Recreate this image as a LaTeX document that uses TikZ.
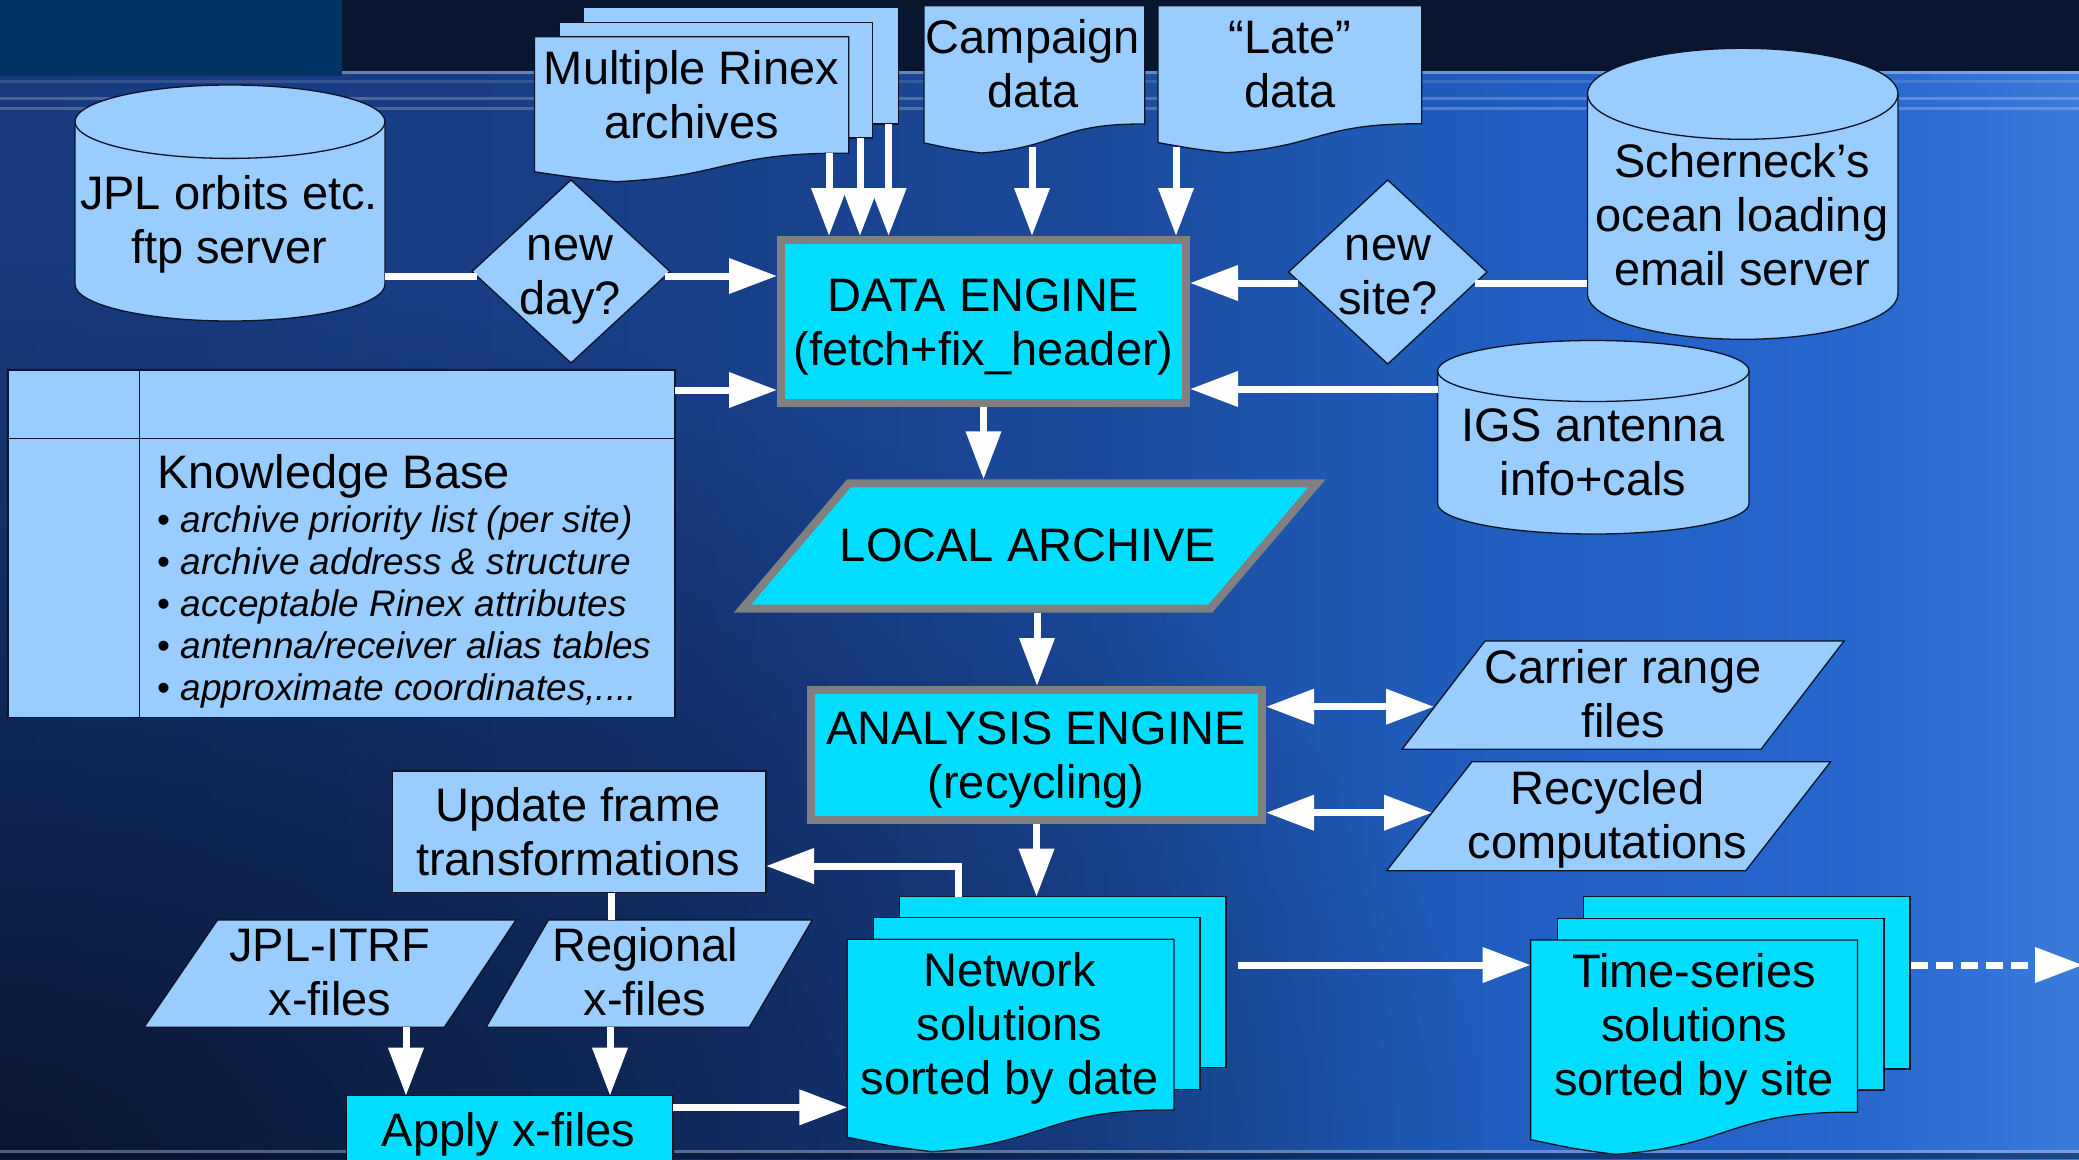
\documentclass[tikz,border=0pt]{standalone}
\usepackage{fontspec}
\setmainfont{Liberation Sans}
\usetikzlibrary{arrows.meta,fadings,calc}

\definecolor{lightfill}{HTML}{99CCFF}
\definecolor{cyanfill}{HTML}{00DDFF}
\definecolor{framegray}{HTML}{808080}
\definecolor{outlinecol}{HTML}{0C1426}
\definecolor{topdark}{HTML}{081630}
\definecolor{topblock}{HTML}{003263}
\definecolor{shadowblue}{HTML}{07122A}
\definecolor{bgA}{HTML}{173A7E}
\definecolor{bgB}{HTML}{183F88}
\definecolor{bgC}{HTML}{1B4A9C}
\definecolor{bgD}{HTML}{1F5AB8}
\definecolor{bgE}{HTML}{2260C6}
\definecolor{bgF}{HTML}{2766CC}
\definecolor{bgG}{HTML}{3070D4}
\definecolor{bgH}{HTML}{3A7AD8}

% slide background: dark on the left, bright blue on the right
\pgfdeclarehorizontalshading{bghoriz}{100bp}{color(0bp)=(bgA); color(25bp)=(bgA);
  color(41.83bp)=(bgB); color(51.45bp)=(bgC); color(58.67bp)=(bgD);
  color(63.48bp)=(bgE); color(69.49bp)=(bgF); color(72.14bp)=(bgG);
  color(75bp)=(bgH); color(100bp)=(bgH)}
\tikzfading[name=darkblob, inner color=transparent!10, outer color=transparent!100]

% flowchart "document" sheet with a wavy lower edge: style, left, top, right, lowest point
\newcommand\docshape[5][]{%
  \pgfmathsetmacro\dW{#4-#2}%
  \pgfmathsetmacro\dH{#5-#3}%
  \path[#1] (#2,#3) -- (#4,#3) -- (#4,{#3+0.8037*\dH})
    .. controls ({#2+0.604*\dW},{#3+0.797*\dH}) and ({#2+0.6176*\dW},{#3+0.9616*\dH}) .. ({#2+0.26*\dW},#5)
    .. controls ({#2+0.1324*\dW},{#3+0.9769*\dH}) and ({#2+0.0856*\dW},{#3+0.9583*\dH}) .. (#2,{#3+0.9315*\dH}) -- cycle;}

% database cylinder: style, left, right, top-ellipse centre, bottom-ellipse centre, y radius
\newcommand\cylshape[6][]{%
  \pgfmathsetmacro\cR{(#3-#2)/2}%
  \path[#1] (#2,#4) -- (#2,#5) arc[start angle=180,end angle=360,x radius=\cR pt,y radius=#6pt]
    -- (#3,#4) arc[start angle=0,end angle=180,x radius=\cR pt,y radius=#6pt] -- cycle;
  \path[#1,fill=none] (#2,#4) arc[start angle=180,end angle=360,x radius=\cR pt,y radius=#6pt];}

\begin{document}
\begin{tikzpicture}[x=1pt,y=-1pt,
  txt/.style={font=\fontsize{47}{54}\selectfont, align=center, inner sep=0pt, text=black},
  lightshape/.style={fill=lightfill, draw=outlinecol, line width=1.3pt},
  cyanshape/.style={fill=cyanfill, draw=outlinecol, line width=1.3pt},
  engineshape/.style={fill=cyanfill, draw=framegray, line width=8pt},
  arrowfw/.style={draw=white, line width=7pt, -{Triangle[length=48pt,width=34pt]}},
  arrowln/.style={draw=white, line width=7pt},
  arrowbi/.style={draw=white, line width=7pt, {Triangle[length=48pt,width=34pt]}-{Triangle[length=48pt,width=34pt]}},
]
\useasboundingbox (0,0) rectangle (2079,1159);

% ---------- background ----------
\shade[shading=bghoriz] (0,0) rectangle (2079,1159);
\begin{scope}
  \clip (0,0) rectangle (2079,1159);
  \fill[shadowblue, path fading=darkblob] (0,1159) ellipse [x radius=1500pt, y radius=900pt];
\end{scope}
\fill[topdark] (0,0) rectangle (2079,71);
\fill[white, opacity=0.35] (0,71) rectangle (2079,73.5);
\fill[white, opacity=0.12] (0,80) rectangle (2079,83);
\fill[white, opacity=0.22] (0,97) rectangle (2079,100);
\fill[white, opacity=0.22] (0,107) rectangle (2079,110);
\fill[topblock] (0,0) rectangle (342,76);
\fill[white, opacity=0.3] (0,1150) rectangle (2079,1153);
\fill[shadowblue, opacity=0.5] (0,1153) rectangle (2079,1159);

% ---------- input sources ----------
\path[lightshape] (583.6,7.3) rectangle (898.5,124);
\path[lightshape] (559,22.3) rectangle (872.7,138);
\docshape[lightshape]{534.5}{36.7}{848.8}{181.7}
\node[txt] (rinex) at (691.5,100.7) {\strut Multiple Rinex\\\strut archives};

\docshape[lightshape]{924}{5.7}{1144.7}{153}
\node[txt] (campaign) at (1033,69.5) {\strut Campaign\\\strut data};

\docshape[lightshape]{1158}{5.7}{1421.7}{152.7}
\node[txt] (late) at (1290,70) {\strut “Late”\\\strut data};

\cylshape[lightshape]{75}{385}{121.7}{284.3}{36.7}
\node[txt] (jpl) at (229,225.7) {\strut JPL orbits etc.\\\strut ftp server};

\cylshape[lightshape]{1587.4}{1898}{93.8}{293.8}{45.5}
\node[txt] (scherneck) at (1742,220.9) {\strut Scherneck’s\\\strut ocean loading\\\strut email server};

\cylshape[lightshape]{1437.6}{1749}{371}{503.5}{30.5}
\node[txt] (igs) at (1593,457.5) {\strut IGS antenna\\\strut info+cals};

% decisions
\path[lightshape] (472,271.5) -- (571,180) -- (670,271.5) -- (571,363) -- cycle;
\node[txt] (newday) at (570,276.7) {\strut new\\\strut day?};
\path[lightshape] (1288.5,272) -- (1387.7,180) -- (1487,272) -- (1387.7,364) -- cycle;
\node[txt] (newsite) at (1388,276.7) {\strut new\\\strut site?};

% knowledge base table
\path[lightshape, line width=1.5pt] (8,370) rectangle (675,717.3);
\draw[outlinecol, line width=1.5pt] (8,438.3) -- (675,438.3) (139.3,370) -- (139.3,717.3);
\node[font=\fontsize{47}{54}\selectfont, anchor=base west, inner sep=0pt] (kbtitle) at (157,488.3) {Knowledge Base};
\node[font=\fontsize{37}{42}\selectfont, anchor=north west, align=left, inner sep=0pt] (kblist) at (157,502.6)
  {\strut• \textit{archive priority list (per site)}\\
   \strut• \textit{archive address \& structure}\\
   \strut• \textit{acceptable Rinex attributes}\\
   \strut• \textit{antenna/receiver alias tables}\\
   \strut• \textit{approximate coordinates,....}};

% ---------- engines ----------
\path[engineshape] (781,240) rectangle (1186,403);
\node[txt] (data) at (983.5,327.7) {\strut DATA ENGINE\\\strut (fetch+fix\_header)};

\path[engineshape] (849,483.3) -- (1317,483.3) -- (1210.3,608.7) -- (742.3,608.7) -- cycle;
\node[txt] (local) at (1028,551) {\strut LOCAL ARCHIVE};

\path[engineshape] (811,690) rectangle (1262,820);
\node[txt] (analysis) at (1036,760.7) {\strut ANALYSIS ENGINE\\\strut (recycling)};

\path[lightshape] (1485,641) -- (1844,641) -- (1761,749.3) -- (1402,749.3) -- cycle;
\node[txt] (carrier) at (1623,699.5) {\strut Carrier range\\\strut files};

\path[lightshape] (1472,761.7) -- (1830.6,761.7) -- (1745.7,870.7) -- (1386.6,870.7) -- cycle;
\node[txt] (recycled) at (1607.5,820.9) {\strut Recycled\\\strut computations};

% ---------- reference frame branch ----------
\path[lightshape] (392.6,771) rectangle (766,892.7);
\node[txt] (update) at (578,837.5) {\strut Update frame\\\strut transformations};

\path[lightshape] (217.5,920) -- (516,920) -- (444.3,1027.3) -- (144,1027.3) -- cycle;
\node[txt] (jplitrf) at (330,977.5) {\strut JPL-ITRF\\\strut x-files};

\path[lightshape] (548.4,920) -- (812.3,920) -- (749.3,1027.3) -- (486,1027.3) -- cycle;
\node[txt] (regional) at (645,977.5) {\strut Regional\\\strut x-files};

\path[cyanshape] (346.8,1095.7) rectangle (673,1175);
\node[txt] (apply) at (508.6,1136) {\strut Apply x-files};

% ---------- solution stacks ----------
\path[cyanshape] (899.6,896.7) rectangle (1226,1067.7);
\path[cyanshape] (873.2,917.7) rectangle (1200,1089.3);
\docshape[cyanshape]{847.3}{939.3}{1174}{1151.7}
\node[txt] (network) at (1009.6,1029.8) {\strut Network\\\strut solutions\\\strut sorted by date};

\path[cyanshape] (1583.8,896.7) rectangle (1910,1069);
\path[cyanshape] (1557.2,918.3) rectangle (1884,1090);
\docshape[cyanshape]{1530.6}{940}{1857.5}{1154.3}
\node[txt] (timeseries) at (1694,1030.8) {\strut Time-series\\\strut solutions\\\strut sorted by site};

% ---------- connection points ----------
\coordinate (rinexA) at (829,153);
\coordinate (rinexB) at (860,138);
\coordinate (rinexC) at (888.6,124);
\coordinate (campaignOut) at (1032,147);
\coordinate (lateOut) at (1176,147);
\coordinate (dataTop) at (983.5,236);
\coordinate (dataW) at (777,320);
\coordinate (dataE) at (1190,320);
\coordinate (dataS) at (983.5,407);
\coordinate (jplE) at (385,276);
\coordinate (newdayW) at (477,276);
\coordinate (newdayE) at (665,276);
\coordinate (kbE) at (675,390);
\coordinate (newsiteW) at (1298,283);
\coordinate (newsiteE) at (1475,283);
\coordinate (scherneckW) at (1587.4,283);
\coordinate (igsW) at (1437.6,389);
\coordinate (localN) at (983.5,479.3);
\coordinate (localS) at (1037,612.7);
\coordinate (analysisN) at (1037,686);
\coordinate (analysisE) at (1266,760);
\coordinate (analysisS) at (1036.5,824);
\coordinate (carrierW) at (1434,706.7);
\coordinate (recycledW) at (1432,812.7);
\coordinate (networkTop) at (1036.5,896.7);
\coordinate (networkFeed) at (958,896.7);
\coordinate (updateE) at (766,866);
\coordinate (updateS) at (611,892.7);
\coordinate (regionalN) at (611,920);
\coordinate (jplitrfS) at (406,1027.3);
\coordinate (regionalS) at (610,1027.3);
\coordinate (applyN) at (508.6,1095.7);
\coordinate (applyE) at (673,1107.3);
\coordinate (networkW) at (847.3,1107.3);
\coordinate (networkE) at (1237.5,965);
\coordinate (timeseriesW) at (1530.6,965);
\coordinate (timeseriesE) at (1911,965);
\coordinate (offpage) at (2083,965);

% ---------- connectors ----------
\draw[arrowfw] (rinexA) -- (rinexA |- dataTop);
\draw[arrowfw] (rinexB) -- (rinexB |- dataTop);
\draw[arrowfw] (rinexC) -- (rinexC |- dataTop);
\draw[arrowfw] (campaignOut) -- (campaignOut |- dataTop);
\draw[arrowfw] (lateOut) -- (lateOut |- dataTop);
\draw[arrowln] (jplE) -- (newdayW);
\draw[arrowfw] (newdayE) -- (newdayE -| dataW);
\draw[arrowfw] (kbE) -- (kbE -| dataW);
\draw[arrowln] (scherneckW) -- (newsiteE);
\draw[arrowfw] (newsiteW) -- (newsiteW -| dataE);
\draw[arrowfw] (igsW) -- (igsW -| dataE);
\draw[arrowfw] (dataS) -- (localN);
\draw[arrowfw] (localS) -- (analysisN);
\draw[arrowbi] (analysisE |- carrierW) -- (carrierW);
\draw[arrowbi] (analysisE |- recycledW) -- (recycledW);
\draw[arrowfw] (analysisS) -- (networkTop);
\draw[arrowfw] (networkFeed) |- (updateE);
\draw[arrowln] (updateS) -- (regionalN);
\draw[arrowfw] (jplitrfS) -- (jplitrfS |- applyN);
\draw[arrowfw] (regionalS) -- (regionalS |- applyN);
\draw[arrowfw] (applyE) -- (networkW);
\draw[arrowfw] (networkE) -- (timeseriesW);
\draw[arrowfw, dash pattern=on 17pt off 8pt] (timeseriesE) -- (offpage);
\end{tikzpicture}
\end{document}
